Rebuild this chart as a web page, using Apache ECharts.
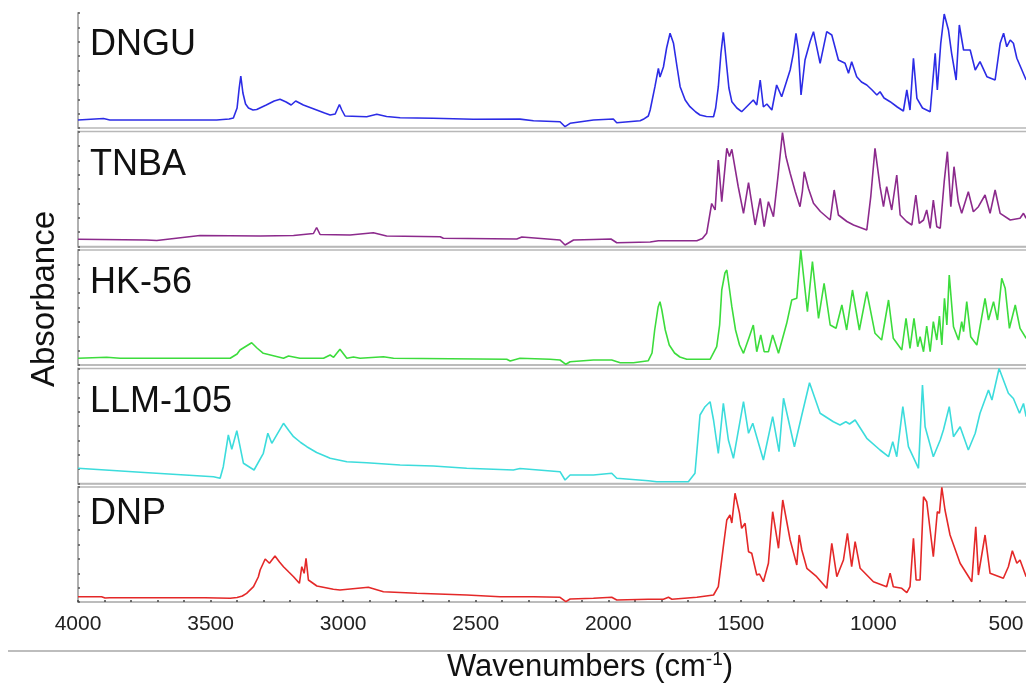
<!DOCTYPE html>
<html>
<head>
<meta charset="utf-8">
<script src="https://cdn.jsdelivr.net/npm/echarts@6/dist/echarts.min.js"></script>
<style>html,body{margin:0;padding:0;background:#fff}#c{width:1026px;height:685px}</style>
</head>
<body>
<div id="c"></div>
<script>
// ---- data: [wavenumber (cm-1), absorbance (arb. units per panel)] ----
const seriesNames = ['DNGU', 'TNBA', 'HK-56', 'LLM-105', 'DNP'];
const xTickLabels = [4000, 3500, 3000, 2500, 2000, 1500, 1000, 500];

const dnguData = [[4000,8],[3904,9.5],[3880,8],[3477,8],[3430,9],[3414,10],[3400,20],[3392,40],[3386,52],[3378,35],[3368,24],[3357,20],[3340,18],[3326,18.5],[3290,23],[3260,27],[3238,28.7],[3215,26],[3196,23],[3179,27],[3150,23],[3120,20],[3100,18],[3070,15],[3049,13],[3030,14],[3020,20],[3014,23.5],[3005,18],[2993,12],[2911,11.3],[2873,13.7],[2836,11.5],[2785,10.3],[2660,9.7],[2509,8.7],[2333,8.9],[2282,7.3],[2182,6.3],[2163,1.3],[2144,4.7],[2056,8],[1981,9],[1968,5.3],[1880,7.3],[1868,8.7],[1849,12],[1842,18],[1824,41.3],[1811,59.7],[1805,51],[1792,61],[1780,80],[1767,94.7],[1754,84.7],[1740,60],[1729,41.3],[1710,28],[1692,21.3],[1670,16],[1654,13],[1630,11.5],[1603,11.3],[1595,20],[1585,41.3],[1575,75],[1566,95.7],[1560,80],[1553,61],[1545,40],[1534,26.3],[1515,20],[1497,16.3],[1453,28],[1440,23],[1427,48],[1415,21],[1402,24],[1383,18],[1365,43],[1346,31.3],[1314,58],[1302,74.7],[1292,94.7],[1283,78],[1273,33],[1258,68],[1239,86.3],[1226,96.3],[1201,64.7],[1176,96.3],[1157,93],[1132,68],[1107,64.7],[1094,54.7],[1082,66.3],[1063,51.3],[1045,46],[1025,43],[1005,38],[987,33],[975,36.3],[960,30],[937,26.3],[910,21],[887,17],[874,38],[862,18],[849,69.7],[836,29.7],[815,20],[786,16.3],[767,74.7],[759,38],[746,84.7],[733,114],[717,98],[705,74.7],[688,48],[676,103],[660,78],[635,78],[616,58],[598,66.3],[572,51.3],[541,48],[522,84.7],[509,94.7],[497,81.3],[484,88],[472,84.7],[459,69.7],[440,58],[424,48]];

const tnbaData = [[4000,7.2],[3741,6.5],[3703,6],[3540,11],[3313,10.5],[3187,11],[3112,13],[3100,19],[3087,12],[2974,11.5],[2886,13.8],[2836,10.5],[2634,9.8],[2622,8.2],[2345,7.5],[2326,9.5],[2182,6.5],[2163,1.5],[2131,6.5],[2056,7],[1990,7.5],[1987,9],[1968,3.8],[1842,4.5],[1811,5.8],[1666,5.8],[1645,8],[1629,13.2],[1610,43],[1597,36.5],[1585,86.5],[1572,44.8],[1553,98.2],[1543,90],[1534,97.2],[1510,60],[1490,33.2],[1471,63.8],[1446,21.5],[1427,48.2],[1412,19.8],[1396,44.8],[1377,29.8],[1360,70],[1343,113.8],[1330,90],[1314,73.2],[1295,55],[1277,39.8],[1268,55],[1261,74.8],[1245,58],[1226,43.2],[1200,35],[1163,26.5],[1148,56.5],[1132,31.5],[1100,25],[1075,21.5],[1025,16.5],[1010,49.8],[994,98.2],[975,59.8],[962,39.8],[950,59.8],[931,36.5],[912,71.5],[899,31.5],[875,25],[855,21.5],[840,51.5],[827,23.2],[811,26.5],[799,36.5],[786,18.2],[774,46.5],[761,19.8],[748,18.2],[733,64.8],[721,94.8],[708,39.8],[696,79.8],[680,45],[667,33.2],[642,54.8],[623,34.8],[604,39.8],[579,51.5],[560,33.2],[541,56.5],[522,33.2],[484,26.5],[447,28.2],[434,33.2],[424,28.2]];

const hk56Data = [[4000,6.7],[3892,7.7],[3841,6.7],[3426,6.7],[3400,11],[3389,15],[3345,22.3],[3325,17],[3301,11.7],[3225,6.7],[3206,9],[3163,6.7],[3074,6.7],[3049,10],[3036,7.7],[3012,15.7],[2986,6.7],[2961,8],[2936,6.7],[2848,8.3],[2810,6.7],[2383,5.7],[2370,4],[2333,6.7],[2220,5.7],[2182,5],[2160,0.7],[2144,3.3],[2056,5],[1987,5],[1955,2.3],[1905,2.3],[1849,4.3],[1835,12],[1825,35],[1812,58],[1805,63.3],[1798,55],[1785,35],[1770,20],[1750,12],[1730,8],[1704,5.7],[1616,5.7],[1591,18.3],[1580,40],[1572,75],[1560,92],[1553,95],[1545,80],[1534,58.3],[1520,35],[1505,20],[1490,11.7],[1468,28.3],[1453,40],[1440,13.3],[1425,30],[1412,13.3],[1396,13.3],[1380,30],[1358,11.7],[1327,41.7],[1308,65],[1289,66.7],[1274,115],[1249,53.3],[1230,103.3],[1207,46.7],[1186,81.7],[1163,40],[1141,36.7],[1119,60],[1101,35],[1079,75],[1053,35],[1025,73.3],[994,31.7],[969,25],[943,65],[925,26.7],[893,15],[877,46.7],[862,16.7],[847,46.7],[833,18.3],[824,28.3],[811,13.3],[799,39],[786,13.3],[774,43.3],[761,25],[751,49],[742,20],[732,66.7],[723,40],[714,90],[698,38.3],[679,25],[667,43.3],[660,33.3],[648,63.3],[633,28.3],[610,20],[579,66.7],[566,45],[547,63.3],[532,45],[516,86.7],[503,76.7],[487,36.7],[465,60],[447,36.7],[424,26.7]];

const llm105Data = [[4000,15.2],[3750,11],[3489,6.8],[3464,5.2],[3452,16.8],[3433,48.5],[3420,34.2],[3401,52.8],[3376,20.2],[3336,13.5],[3301,30.2],[3284,50.2],[3269,40.2],[3225,60.2],[3205,53],[3187,46.8],[3160,41],[3137,36.8],[3100,31],[3062,26.8],[3049,25.2],[2986,21.8],[2911,20.8],[2785,18.5],[2660,17.5],[2534,15.2],[2358,13.5],[2333,15],[2182,11.8],[2163,3.5],[2144,8.5],[2056,8.5],[1987,10.2],[1968,5.2],[1849,2.8],[1817,1.8],[1698,1.8],[1673,10.2],[1654,68.5],[1635,76.8],[1616,81.8],[1603,63.5],[1585,30.2],[1566,80.2],[1547,43.5],[1528,25.2],[1490,81.8],[1471,50.2],[1455,60.2],[1415,23.5],[1380,66.8],[1356,31.8],[1339,85.2],[1298,36.8],[1270,68.5],[1241,100.8],[1201,70.2],[1151,61.8],[1126,58.5],[1104,61.8],[1090,59.5],[1069,63.5],[1025,45.2],[975,33.5],[943,26.8],[927,41.8],[912,26.8],[889,76.8],[868,36.8],[830,15.2],[815,98.5],[805,56.8],[774,26.8],[748,43.5],[736,53.5],[714,76.8],[698,46.8],[673,56.8],[642,33.5],[616,50.2],[598,70.2],[566,93.5],[553,83.5],[526,115],[491,90.2],[472,85],[449,70.2],[434,80],[424,66.8]];

const dnpData = [[4000,5.3],[3911,5.3],[3898,4],[3892,5.3],[3880,4.3],[3521,4.3],[3515,3],[3426,3.7],[3400,4.5],[3380,6],[3364,8.7],[3338,15.3],[3320,25],[3313,32],[3294,43],[3278,38.7],[3257,46],[3240,40],[3225,35.3],[3205,30],[3187,25.3],[3165,18.7],[3156,35.3],[3147,28.7],[3140,43.7],[3131,22],[3099,16],[3037,12.7],[3012,12],[2905,14.7],[2848,10.3],[2722,8.7],[2534,7],[2408,5.3],[2282,5.3],[2182,4.7],[2160,0.3],[2144,3],[2056,3.7],[1987,4.7],[1968,2],[1849,2.7],[1792,2.7],[1773,4.7],[1760,2.7],[1666,4.7],[1603,7],[1585,15.3],[1566,55.3],[1553,82],[1541,87],[1534,79],[1522,108.7],[1505,88.7],[1497,73.7],[1484,78.7],[1471,50.3],[1459,48.7],[1440,27],[1430,28],[1415,20.3],[1396,38.7],[1380,90.3],[1358,53.7],[1342,102],[1314,62],[1289,37],[1280,67],[1270,52],[1251,33.7],[1214,25.3],[1176,13.7],[1157,58.7],[1138,25.3],[1113,42],[1098,68.7],[1082,35.3],[1069,60.3],[1050,33.7],[1000,20.3],[950,15.3],[937,28.7],[925,15.3],[893,13.7],[874,9.3],[862,15.3],[849,63.7],[839,22],[824,22],[811,105.3],[799,100.3],[786,72],[774,45.3],[759,90.3],[751,88.7],[742,114.7],[730,92],[711,67],[673,38.7],[629,20.3],[614,75.3],[604,27],[579,67],[560,28.7],[510,23.7],[491,35.3],[476,51.3],[459,38.7],[447,42],[424,25.3]];

const allData = [dnguData, tnbaData, hk56Data, llm105Data, dnpData];

// ---- layout / style ----
const colors = ['#2c2ce6', '#8c2a8c', '#3cdc3c', '#3cdcdc', '#e42828'];
const panelTops = [13, 131.5, 250, 368.5, 487];
const labelCenters = [45.5, 165, 283.5, 402.5, 514];
const PH = 115;
const FONT = '"Liberation Sans", Arial, Helvetica, sans-serif';
const gridGray = '#b8b8b8';

const grids = [], xAxes = [], yAxes = [], series = [], titles = [];
for (let i = 0; i < 5; i++) {
  grids.push({
    left: 78, top: panelTops[i], width: 954.5, height: PH,
    containLabel: false, outerBoundsMode: 'none',
    show: i > 0, borderColor: gridGray, borderWidth: 1.5, backgroundColor: 'transparent'
  });
  const isBottom = i === 4;
  xAxes.push({
    gridIndex: i, type: 'value', min: 400, max: 4000, interval: 100, inverse: true,
    axisLine: { show: true, onZero: false, lineStyle: { color: gridGray, width: 1.5 } },
    axisTick: { show: isBottom, inside: true, length: 2, lineStyle: { color: '#444', width: 1.5 } },
    axisLabel: {
      show: isBottom, margin: 12, color: '#222', fontSize: 21, fontFamily: FONT, lineHeight: 21,
      formatter: v => (xTickLabels.indexOf(v) >= 0 ? String(v) : '')
    },
    splitLine: { show: false }
  });
  yAxes.push({
    gridIndex: i, type: 'value', min: 0, max: PH, interval: PH / 8,
    axisLine: { show: true, lineStyle: { color: '#b0b0b0', width: 2 } },
    axisTick: { show: true, inside: true, length: 2, lineStyle: { color: '#555', width: 1.5 } },
    axisLabel: { show: false },
    splitLine: { show: false }
  });
  series.push({
    name: seriesNames[i], type: 'line', xAxisIndex: i, yAxisIndex: i,
    data: allData[i], showSymbol: false, smooth: false, clip: true,
    lineStyle: { color: colors[i], width: 1.6 }, itemStyle: { color: colors[i] }
  });
  titles.push({
    text: seriesNames[i], left: 90, top: labelCenters[i] - 18,
    textStyle: { fontSize: 36, fontWeight: 'normal', color: '#111', fontFamily: FONT, lineHeight: 36 },
    padding: 0
  });
}

const chart = echarts.init(document.getElementById('c'), null, { renderer: 'canvas' });
chart.setOption({
  animation: false,
  backgroundColor: '#fff',
  title: titles,
  grid: grids,
  xAxis: xAxes,
  yAxis: yAxes,
  series: series,
  graphic: [
    { type: 'line', shape: { x1: 8, y1: 651, x2: 1026, y2: 651 }, style: { stroke: '#bdbdbd', lineWidth: 2 } },
    {
      type: 'text', x: 590, y: 667,
      style: {
        text: 'Wavenumbers (cm{sup|-1})', fill: '#111',
        font: '31px ' + FONT, align: 'center', verticalAlign: 'middle',
        rich: { sup: { fontSize: 19, fontFamily: FONT, fill: '#111', verticalAlign: 'top', lineHeight: 34 } }
      }
    },
    {
      type: 'text', x: 45, y: 299, rotation: Math.PI / 2,
      style: { text: 'Absorbance', fill: '#111', font: '33px ' + FONT, align: 'center', verticalAlign: 'middle' }
    }
  ]
});
</script>
</body>
</html>
